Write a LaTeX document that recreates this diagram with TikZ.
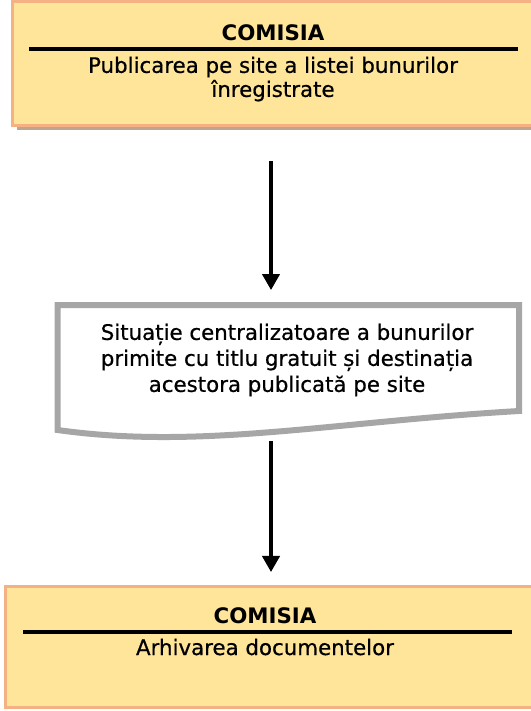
\documentclass[tikz,border=0pt]{standalone}
\usepackage{fontspec}
\setmainfont{DejaVu Sans}
\newfontfamily\stepfont[FakeBold=0.6]{DejaVu Sans}
\usepackage{tikz}
\usetikzlibrary{arrows.meta}
\usetikzlibrary{positioning}
\usetikzlibrary{fit}
\usetikzlibrary{shadows}
\definecolor{panelfill}{HTML}{FFE599}
\definecolor{panelline}{HTML}{F4B183}
\definecolor{panelshadow}{HTML}{BFA58E}
\definecolor{docline}{HTML}{A6A6A6}
\tikzset{
  panel/.style={draw=panelline, fill=panelfill, line width=2.25pt, inner sep=0pt, outer sep=0pt},
  title/.style={font=\fontsize{16}{18.75}\selectfont\bfseries, inner sep=0pt, anchor=base},
  body/.style={font=\stepfont\fontsize{16}{19.5}\selectfont, align=center, inner sep=0pt},
  rule/.style={line width=2.5pt},
  docshape/.style={draw=docline, fill=white, line width=4.5pt, line join=miter},
  flow/.style={line width=2.4pt, -{Triangle[width=13pt,length=12pt]}},
}

\begin{document}
\begin{tikzpicture}[x=0.75pt, y=-0.75pt]
    \path[use as bounding box, clip] (0,0) rectangle (531,711);
    \coordinate (spine) at (271,0);

    % top step
    \node[panel, fit={(12.5,1.5) (538,125)}, drop shadow={shadow xshift=3pt, shadow yshift=-3.5pt, fill=panelshadow, opacity=1}] (top) {};
    \node[title] (topTitle) at (273,40) {COMISIA};
    \draw[rule] (29,49) -- (518,49);
    \node[body, font=\stepfont\fontsize{16}{18}\selectfont] (topText) at (273,79) {Publicarea pe site a listei bunurilor\\înregistrate};

    % document
    \node[fit={(57.5,305) (519,430)}, inner sep=0pt, outer sep=0pt] (doc) {};
    \coordinate (docCorner) at ([yshift=14.25pt]doc.south east);
    \draw[docshape] (doc.north west) -- (doc.south west)
        .. controls +(142.5,20) and +(-189,11) .. (docCorner)
        -- (doc.north east) -- cycle;
    \node[body] (docText) at (287,360) {Situație centralizatoare a bunurilor\\primite cu titlu gratuit și destinația\\acestora publicată pe site};

    % bottom step
    \node[panel, fit={(5.5,586.5) (545,707)}] (bottom) {};
    \node[title] (bottomTitle) at (265,623) {COMISIA};
    \draw[rule] (23,632) -- (512,632);
    \node[title, font=\stepfont\fontsize{16}{18.75}\selectfont] (bottomText) at (265,655) {Arhivarea documentelor};

    \draw[flow, shorten <=27pt, shorten >=11.25pt] (top.south -| spine) -- (doc.north -| spine);
    \draw[flow, shorten <=8.25pt, shorten >=10.9pt] (doc.south -| spine) -- (bottom.north -| spine);
  \end{tikzpicture}
\end{document}
